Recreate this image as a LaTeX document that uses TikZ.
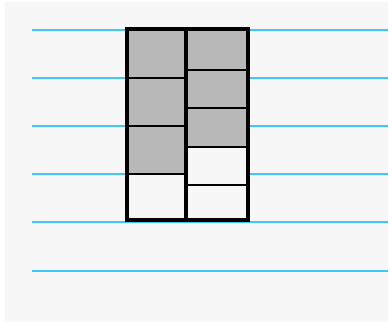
\documentclass[tikz,border=0pt]{standalone}
\definecolor{bgc}{HTML}{F7F7F7}
\definecolor{linec}{HTML}{3CC8F8}
\definecolor{cellg}{HTML}{B8B8B8}
\tikzset{
  staff/.style={linec, line width=2pt},
  cellgray/.style={fill=cellg},
  cellwhite/.style={fill=bgc},
  thin div/.style={black, line width=2pt},
  thick div/.style={black, line width=4pt, line join=miter}
}
\begin{document}
\begin{tikzpicture}[x=1pt,y=-1pt]
\useasboundingbox (0,0) rectangle (388,322);
\fill[white] (0,0) rectangle (388,322);
\fill[bgc] (5,2) rectangle (388,322);
% staff lines
\foreach \y in {30,78,126,174,222,271}
  \draw[staff] (32,\y) -- (388,\y);
% left column cells
\fill[cellgray] (127,28.5) rectangle (186,174);
\fill[cellwhite] (127,174) rectangle (186,220);
% right column cells
\fill[cellgray] (186,28.5) rectangle (248,147.3);
\fill[cellwhite] (186,147.3) rectangle (248,220);
% dividers
\foreach \y in {77.7,125.7,174}
  \draw[thin div] (127,\y) -- (186,\y);
\foreach \y in {70,107.7,147.3,185}
  \draw[thin div] (186,\y) -- (248,\y);
\draw[thick div] (186,28.5) -- (186,220);
\draw[thick div] (127,28.5) rectangle (248,220);
\end{tikzpicture}
\end{document}
